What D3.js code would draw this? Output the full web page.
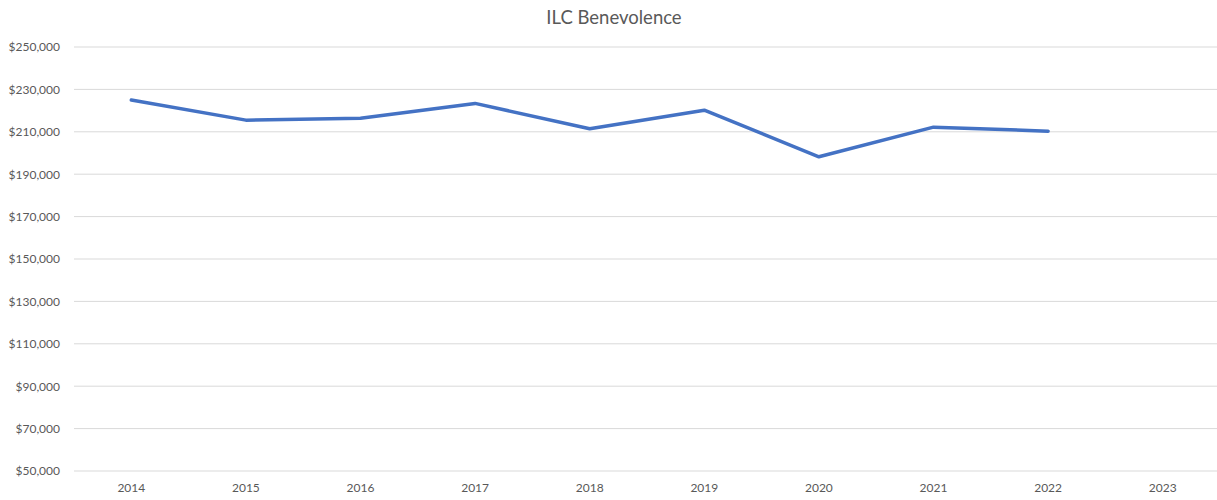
<!DOCTYPE html>
<html>
<head>
<meta charset="utf-8">
<script src="https://cdn.jsdelivr.net/npm/d3@7"></script>
<style>
  html, body { margin: 0; padding: 0; background: #fff; }
  svg { display: block; font-family: Lato, "Open Sans", "Liberation Sans", sans-serif; }
</style>
</head>
<body>
<svg id="chart" width="1217" height="500"></svg>
<script>
// Annual benevolence totals (2023 not yet reported)
const years = ["2014", "2015", "2016", "2017", "2018", "2019", "2020", "2021", "2022", "2023"];
const benevolence = [225000, 215500, 216400, 223400, 211400, 220200, 198200, 212200, 210300, null];
const yTicks = [50000, 70000, 90000, 110000, 130000, 150000, 170000, 190000, 210000, 230000, 250000];
const title = "ILC Benevolence";

const svg = d3.select("#chart");
const margin = { left: 74, right: -3, top: 47, bottom: 29 };
const W = 1217, H = 500;

const x = d3.scaleBand().domain(years).range([margin.left, W - margin.right]);
const y = d3.scaleLinear().domain([50000, 250000]).range([H - margin.bottom, margin.top]);

const fmt = v => "$" + d3.format(",")(v);

// horizontal gridlines
svg.append("g")
  .selectAll("line")
  .data(yTicks)
  .join("line")
  .attr("x1", margin.left)
  .attr("x2", W)
  .attr("y1", d => y(d))
  .attr("y2", d => y(d))
  .attr("stroke", "#d9d9d9")
  .attr("stroke-width", 1);

// y axis labels
const yAxis = d3.axisLeft(y).tickValues(yTicks).tickFormat(fmt).tickSize(0).tickPadding(14);
svg.append("g")
  .attr("transform", `translate(${margin.left},0)`)
  .call(yAxis)
  .call(g => g.select(".domain").remove())
  .call(g => g.selectAll("text")
    .attr("fill", "#595959")
    .style("font-size", "12px")
    .style("font-family", "Lato, 'Open Sans', sans-serif"));

// x axis labels
const xAxis = d3.axisBottom(x).tickSize(0).tickPadding(12);
svg.append("g")
  .attr("transform", `translate(0,${H - margin.bottom})`)
  .call(xAxis)
  .call(g => g.select(".domain").remove())
  .call(g => g.selectAll("text")
    .attr("fill", "#595959")
    .style("font-size", "12px")
    .style("font-family", "Lato, 'Open Sans', sans-serif"));

// series line
const pts = years.map((yr, i) => ({ yr, v: benevolence[i] }));
const line = d3.line()
  .defined(d => d.v != null)
  .x(d => x(d.yr) + x.bandwidth() / 2)
  .y(d => y(d.v));

svg.append("path")
  .datum(pts)
  .attr("d", line)
  .attr("fill", "none")
  .attr("stroke", "#4472c4")
  .attr("stroke-width", 3.5)
  .attr("stroke-linejoin", "round")
  .attr("stroke-linecap", "round");

// title
svg.append("text")
  .attr("x", 614)
  .attr("y", 24)
  .attr("text-anchor", "middle")
  .attr("fill", "#595959")
  .style("font-size", "18.5px")
  .text(title);
</script>
</body>
</html>
